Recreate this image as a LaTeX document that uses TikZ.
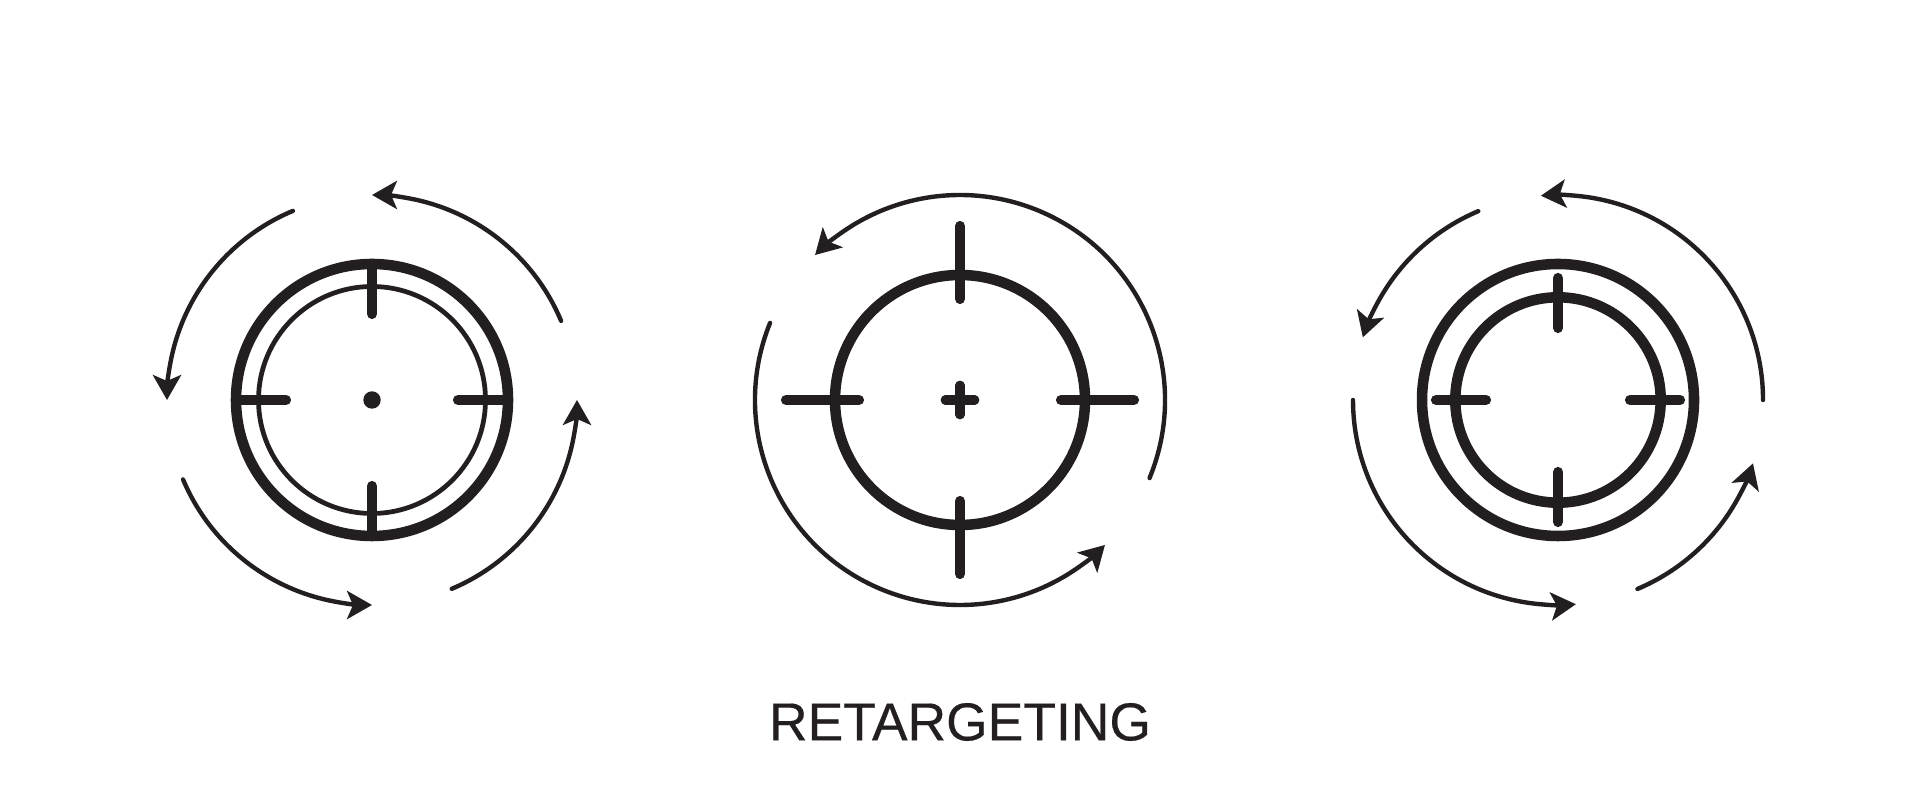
\documentclass[tikz,border=0pt]{standalone}
\usepackage{fontspec}
\setmainfont[FakeBold=0.4]{Liberation Sans}
\usepackage{xcolor}
\usetikzlibrary{calc, arrows.meta}
\definecolor{inkblack}{HTML}{231F20}
\tikzset{
  ring/.style={draw=inkblack, circle, line width=3pt, inner sep=0pt},
  thinring/.style={draw=inkblack, circle, line width=1.35pt, inner sep=0pt},
  tick/.style={draw=inkblack, line width=2.9pt, line cap=round},
  sweep/.style={draw=inkblack, line width=1.25pt, line cap=round,
    -{Stealth[length=7.1pt, width=8pt, inset=1.7pt]}},
}

\begin{document}
\begin{tikzpicture}
  \useasboundingbox (0, 0) rectangle (19.2, 8);

  % Centres
  \coordinate (left) at (3.72, 4);
  \coordinate (mid) at (9.6, 4);
  \coordinate (right) at (15.58, 4);

  % Left target
  \node[ring, minimum size=2.72cm] (leftouter) at (left) {};
  \node[thinring, minimum size=2.27cm] (leftinner) at (left) {};
  \node[fill=inkblack, circle, inner sep=0pt, minimum size=0.174cm] (leftdot) at (left) {};
  \draw[tick] ($(left)+(0, 0.86)$) -- ($(left)+(0, 1.36)$);
  \draw[tick] ($(left)+(0, -0.86)$) -- ($(left)+(0, -1.36)$);
  \draw[tick] ($(left)+(-0.86, 0)$) -- ($(left)+(-1.36, 0)$);
  \draw[tick] ($(left)+(0.86, 0)$) -- ($(left)+(1.36, 0)$);

  % Left arcs, the last short piece carries the tip
  \draw[sweep] ($(left)+(22.7:2.05)$) arc[start angle=22.7, end angle=78, radius=2.05] arc[start angle=78, end angle=90, radius=2.05];
  \draw[sweep] ($(left)+(112.7:2.05)$) arc[start angle=112.7, end angle=168, radius=2.05] arc[start angle=168, end angle=180, radius=2.05];
  \draw[sweep] ($(left)+(202.8:2.05)$) arc[start angle=202.8, end angle=258, radius=2.05] arc[start angle=258, end angle=270, radius=2.05];
  \draw[sweep] ($(left)+(292.9:2.05)$) arc[start angle=292.9, end angle=348, radius=2.05] arc[start angle=348, end angle=360, radius=2.05];

  % Middle target
  \node[ring, minimum size=2.5cm] (midouter) at (mid) {};
  \draw[tick] ($(mid)+(0, 1.01)$) -- ($(mid)+(0, 1.74)$);
  \draw[tick] ($(mid)+(0, -1.01)$) -- ($(mid)+(0, -1.74)$);
  \draw[tick] ($(mid)+(-1.01, 0)$) -- ($(mid)+(-1.74, 0)$);
  \draw[tick] ($(mid)+(1.01, 0)$) -- ($(mid)+(1.74, 0)$);
  \draw[tick, line width=2.6pt] ($(mid)+(-0.148, 0)$) -- ($(mid)+(0.148, 0)$);
  \draw[tick, line width=2.6pt] ($(mid)+(0, -0.148)$) -- ($(mid)+(0, 0.148)$);

  % Middle arcs
  \draw[sweep] ($(mid)+(-22.4:2.05)$) arc[start angle=-22.4, end angle=123, radius=2.05] arc[start angle=123, end angle=135, radius=2.05];
  \draw[sweep] ($(mid)+(157.9:2.05)$) arc[start angle=157.9, end angle=303, radius=2.05] arc[start angle=303, end angle=315, radius=2.05];

  % Right target
  \node[ring, minimum size=2.72cm] (rightouter) at (right) {};
  \node[ring, minimum size=2.054cm] (rightinner) at (right) {};
  \draw[tick] ($(right)+(0, 0.72)$) -- ($(right)+(0, 1.22)$);
  \draw[tick] ($(right)+(0, -0.72)$) -- ($(right)+(0, -1.22)$);
  \draw[tick] ($(right)+(-0.72, 0)$) -- ($(right)+(-1.22, 0)$);
  \draw[tick] ($(right)+(0.72, 0)$) -- ($(right)+(1.22, 0)$);

  % Right arcs
  \draw[sweep] ($(right)+(0:2.05)$) arc[start angle=0, end angle=82.8, radius=2.05] arc[start angle=82.8, end angle=94.8, radius=2.05];
  \draw[sweep] ($(right)+(112.9:2.05)$) arc[start angle=112.9, end angle=150.2, radius=2.05] arc[start angle=150.2, end angle=162.2, radius=2.05];
  \draw[sweep] ($(right)+(180:2.05)$) arc[start angle=180, end angle=263, radius=2.05] arc[start angle=263, end angle=275, radius=2.05];
  \draw[sweep] ($(right)+(292.8:2.05)$) arc[start angle=292.8, end angle=330, radius=2.05] arc[start angle=330, end angle=342, radius=2.05];

  % Title
  \node[text=inkblack, inner sep=0pt, font=\fontsize{15.2pt}{18pt}\selectfont] (title) at (9.6, 0.78) {RETARGETING};
\end{tikzpicture}
\end{document}
